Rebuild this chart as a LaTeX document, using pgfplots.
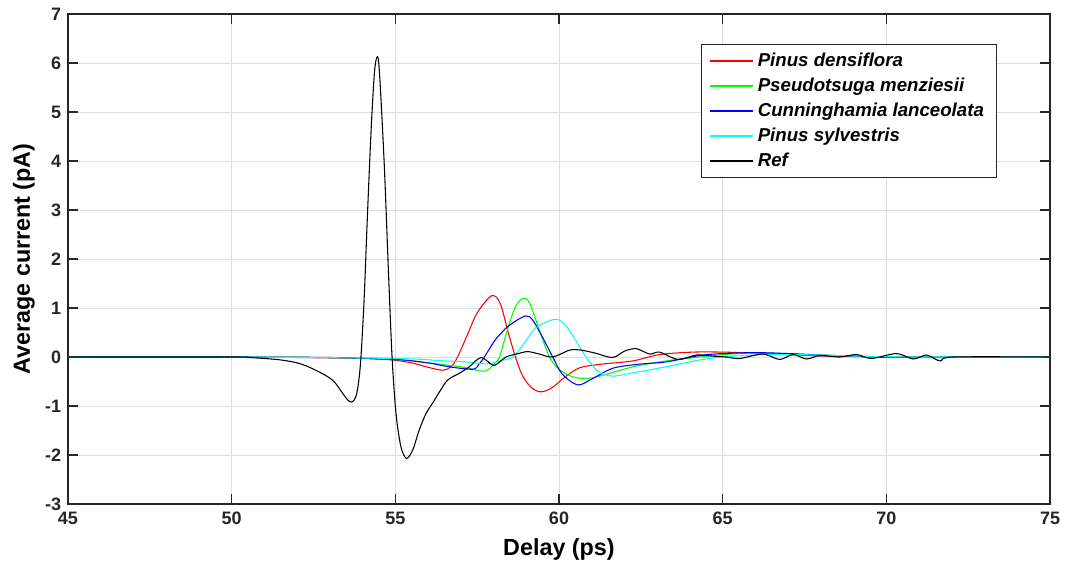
\documentclass[border=0pt]{standalone}
\usepackage{pgfplots}
\pgfplotsset{compat=1.18}
\usepackage{fontspec}
\setmainfont{Liberation Sans}
\definecolor{axgray}{HTML}{262626}
\definecolor{pred}{RGB}{255,0,0}
\definecolor{pgreen}{RGB}{0,255,0}
\definecolor{pblue}{RGB}{0,0,255}
\definecolor{pcyan}{RGB}{0,255,255}
\definecolor{pblack}{RGB}{0,0,0}
\begin{document}
\begin{tikzpicture}
\useasboundingbox (-51pt,-48pt) rectangle (748.5pt,378pt);
\begin{axis}[
  scale only axis,
  width=736.5pt, height=367.5pt,
  xmin=45, xmax=75, ymin=-3, ymax=7,
  xtick={45,50,...,75}, ytick={-3,-2,...,7},
  grid=major,
  major grid style={color=black!13, line width=0.6pt},
  axis line style={color=axgray, line width=0.8pt},
  tick style={color=axgray, line width=0.8pt},
  tick align=inside,
  major tick length=7.5pt,
  /pgf/number format/assume math mode=true,
  tick label style={font=\fontsize{13.5}{16}\selectfont\bfseries, text=axgray},
  yticklabel style={inner xsep=0pt, xshift=-5pt},
  xticklabel style={inner ysep=0pt, yshift=-6pt},
  xlabel={Delay (ps)},
  ylabel={Average current (pA)},
  label style={font=\fontsize{17.5}{20}\selectfont\bfseries},
  xlabel style={at={(axis description cs:0.5,-0.0925)}, anchor=center},
  ylabel style={at={(axis description cs:-0.0448,0.5)}, anchor=center},
  legend style={at={(0.946,0.9388)}, anchor=north east, draw=axgray, line width=0.6pt,
    fill=white, font=\fontsize{14}{16}\selectfont\bfseries\itshape,
    inner xsep=6.5pt, inner ysep=3pt, row sep=0pt, column sep=0pt,
    nodes={inner ysep=0pt, inner xsep=3pt, text height=13.75pt, text depth=5pt}},
  legend cell align=left,
  legend image code/.code={\draw[#1, line width=1pt] (0pt,0pt) -- (32pt,0pt);},
  every axis plot/.append style={line width=0.8pt, smooth},
]
\addplot[draw=pred] coordinates {
(45,0) (50,0) (52,-0.01) (53,-0.02) (54,-0.03) (54.9,-0.06) (55.5,-0.12) (56,-0.21)
(56.45,-0.27) (56.7,-0.2) (56.9,0) (57.2,0.45) (57.5,0.9) (57.94,1.25) (58.2,1.1)
(58.45,0.5) (58.67,0) (58.9,-0.4) (59.2,-0.65) (59.48,-0.71) (59.8,-0.62) (60.2,-0.4)
(60.63,-0.22) (61.24,-0.15) (62.25,-0.08) (63.07,0.05) (64.09,0.1) (65,0.1) (66,0.08)
(67,0.05) (68,0.02) (69,0.01) (70,0) (75,0)};
\addlegendentry{Pinus densiflora}
\addplot[draw=pgreen] coordinates {
(45,0) (50,0) (53,-0.01) (55,-0.05) (56,-0.12) (57,-0.2) (57.72,-0.29) (58,-0.15)
(58.18,0) (58.4,0.5) (58.65,1.0) (58.9,1.2) (59.1,1.1) (59.4,0.55) (59.71,0)
(60.0,-0.25) (60.4,-0.4) (60.83,-0.44) (61.3,-0.38) (62.26,-0.2) (63.27,-0.08)
(64.3,0.0) (65,0.05) (66,0.08) (67,0.07) (68,0.04) (69,0.02) (70,0) (75,0)};
\addlegendentry{Pseudotsuga menziesii}
\addplot[draw=pblue] coordinates {
(45,0) (50,0) (53,-0.01) (55,-0.05) (56,-0.12) (56.65,-0.2) (57.37,-0.25) (57.55,-0.15)
(57.72,0) (58.0,0.3) (58.18,0.45) (58.49,0.65) (58.98,0.84) (59.2,0.75) (59.5,0.4)
(59.81,0) (60.1,-0.35) (60.57,-0.57) (61.0,-0.45) (61.64,-0.23) (62.4,-0.15)
(63.27,-0.1) (64.3,0.03) (65,0.07) (66,0.09) (67,0.07) (68,0.04) (69,0.02) (70,0) (75,0)};
\addlegendentry{Cunninghamia lanceolata}
\addplot[draw=pcyan] coordinates {
(45,0) (50,0) (55,-0.03) (56.5,-0.08) (57.16,-0.1) (57.77,-0.14) (58.2,-0.08)
(58.59,0) (58.9,0.25) (59.3,0.6) (59.88,0.77) (60.2,0.65) (60.5,0.35) (60.83,0)
(61.2,-0.3) (61.64,-0.39) (62.2,-0.33) (63.27,-0.2) (64.3,-0.06) (65,0.0) (66,0.04)
(67,0.05) (68,0.04) (69,0.02) (70,0.01) (71,0) (75,0)};
\addlegendentry{Pinus sylvestris}
\addplot[draw=pblack] coordinates {
(45,0) (50,0) (50.5,-0.01) (51,-0.03) (51.5,-0.06) (52.06,-0.13) (52.57,-0.27)
(53.08,-0.47) (53.39,-0.74) (53.55,-0.88) (53.68,-0.92) (53.8,-0.8) (53.88,-0.5)
(53.95,0) (54.05,1.23) (54.15,2.93) (54.26,4.63) (54.36,5.79) (54.44,6.12)
(54.51,5.86) (54.66,3.95) (54.8,1.57) (54.9,0) (55.02,-1.15) (55.17,-1.83)
(55.34,-2.07) (55.53,-1.9) (55.73,-1.49) (55.94,-1.15) (56.14,-0.94) (56.35,-0.71)
(56.6,-0.47) (56.96,-0.33) (57.26,-0.2) (57.45,-0.08) (57.63,-0.01) (57.8,-0.08)
(58.03,-0.17) (58.38,0) (58.7,0.06) (59.04,0.11) (59.4,0.06) (59.81,0.0) (60.32,0.14)
(60.68,0.14) (61.1,0.08) (61.64,-0.01) (62.0,0.12) (62.36,0.17) (62.77,0.06)
(63.07,0.1) (63.63,-0.05) (64.19,0.04) (64.65,0.02) (65.1,0.0) (65.52,-0.03)
(66.23,0.06) (66.74,-0.05) (67.15,0.05) (67.56,-0.04) (67.97,0.03) (68.58,0.0)
(69.09,0.05) (69.55,-0.03) (70.31,0.07) (70.82,-0.04) (71.23,0.04) (71.64,-0.08)
(72.04,0.0) (75,0)};
\addlegendentry{Ref}
\end{axis}
\end{tikzpicture}
\end{document}
